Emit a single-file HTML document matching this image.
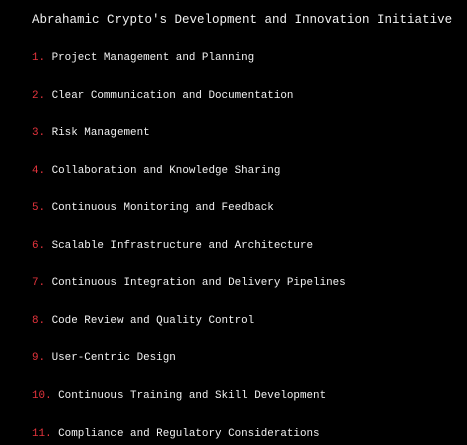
<!DOCTYPE html>
<html><head><meta charset="utf-8"><style>
html,body{margin:0;padding:0;background:#000;width:467px;height:445px;overflow:hidden}
.l{position:absolute;left:32px;white-space:pre;font-family:"Liberation Mono",monospace;color:#f2f2f2;height:16px;line-height:16px}
.t{font-size:12.5px;top:12px}
.i{font-size:10.9px}
.n{color:#e5343d}
</style></head><body>
<div class="l t">Abrahamic Crypto's Development and Innovation Initiative</div>
<div class="l i" style="top:50px"><span class="n">1.</span> Project Management and Planning</div>
<div class="l i" style="top:88px"><span class="n">2.</span> Clear Communication and Documentation</div>
<div class="l i" style="top:125px"><span class="n">3.</span> Risk Management</div>
<div class="l i" style="top:163px"><span class="n">4.</span> Collaboration and Knowledge Sharing</div>
<div class="l i" style="top:200px"><span class="n">5.</span> Continuous Monitoring and Feedback</div>
<div class="l i" style="top:238px"><span class="n">6.</span> Scalable Infrastructure and Architecture</div>
<div class="l i" style="top:275px"><span class="n">7.</span> Continuous Integration and Delivery Pipelines</div>
<div class="l i" style="top:313px"><span class="n">8.</span> Code Review and Quality Control</div>
<div class="l i" style="top:350px"><span class="n">9.</span> User-Centric Design</div>
<div class="l i" style="top:388px"><span class="n">10.</span> Continuous Training and Skill Development</div>
<div class="l i" style="top:426px"><span class="n">11.</span> Compliance and Regulatory Considerations</div>
</body></html>
